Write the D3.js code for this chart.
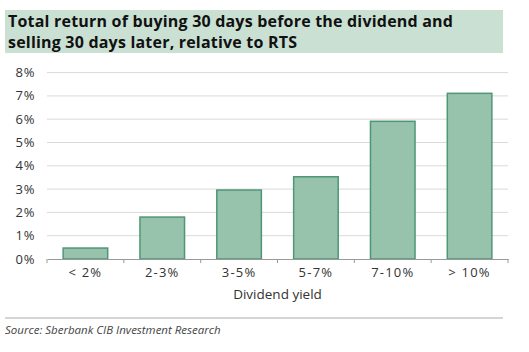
<!DOCTYPE html>
<html>
<head>
<meta charset="utf-8">
<script src="https://cdn.jsdelivr.net/npm/d3@7"></script>
<style>
  body { margin: 0; background: #fff; }
  svg { font-family: "Open Sans", sans-serif; }
</style>
</head>
<body>
<div id="chart"></div>
<script>
// data
const categories = ["< 2%", "2-3%", "3-5%", "5-7%", "7-10%", "> 10%"];
const returns = [0.47, 1.80, 2.96, 3.53, 5.91, 7.11];
const yTicks = [0, 1, 2, 3, 4, 5, 6, 7, 8];

const width = 529,
  height = 352,
  margin = { top: 72.6, bottom: 93, left: 47, right: 21 };

const svg = d3.select("#chart")
  .append("svg")
  .attr("width", width)
  .attr("height", height);

// title band
svg.append("rect")
  .attr("x", 5).attr("y", 10)
  .attr("width", 498).attr("height", 43)
  .attr("fill", "#c9e0d3");

const titleLines = ["Total return of buying 30 days before the dividend and",
  "selling 30 days later, relative to RTS"];
svg.append("g")
  .selectAll("text")
  .data(titleLines)
  .join("text")
  .attr("x", 8)
  .attr("y", (d, i) => 27 + i * 21)
  .attr("font-size", 16)
  .attr("letter-spacing", 0.2)
  .attr("font-weight", "bold")
  .attr("fill", "#111")
  .text(d => d);

const xScale = d3.scaleBand()
  .domain(categories)
  .range([margin.left, width - margin.right])
  .paddingInner(0.42)
  .paddingOuter(0.21);

const yScale = d3.scaleLinear()
  .domain([0, 8])
  .range([height - margin.bottom, margin.top]);

// gridlines
svg.append("g")
  .selectAll("line")
  .data(yTicks.slice(1))
  .join("line")
  .attr("x1", margin.left)
  .attr("x2", width - margin.right)
  .attr("y1", d => yScale(d))
  .attr("y2", d => yScale(d))
  .attr("stroke", "#d9d9d9");

// y labels
svg.append("g")
  .selectAll("text")
  .data(yTicks)
  .join("text")
  .attr("x", 35)
  .attr("y", d => yScale(d) + 4.5)
  .attr("text-anchor", "end")
  .attr("font-size", 13)
  .attr("letter-spacing", 0.6)
  .attr("fill", "#333")
  .text(d => d + "%");

// bars
svg.append("g")
  .selectAll("rect")
  .data(returns)
  .join("rect")
  .attr("x", (d, i) => xScale(categories[i]))
  .attr("width", xScale.bandwidth())
  .attr("y", d => yScale(d))
  .attr("height", d => yScale(0) - yScale(d))
  .attr("fill", "#97c2ab")
  .attr("stroke", "#4f9677")
  .attr("stroke-width", 1.5);

// x axis
const xAxis = d3.axisBottom(xScale).tickSize(0).tickPadding(9);
const gx = svg.append("g")
  .attr("transform", `translate(0,${yScale(0)})`)
  .call(xAxis);
gx.select(".domain").attr("stroke", "#999");
gx.selectAll(".tick text")
  .attr("font-size", 13)
  .attr("letter-spacing", 1.2)
  .attr("fill", "#333")
  .attr("font-family", "Open Sans, sans-serif");

// boundary ticks between categories
const bounds = d3.range(categories.length + 1).map(i => margin.left + i * (width - margin.left - margin.right) / categories.length);
gx.selectAll(".btick")
  .data(bounds)
  .join("line")
  .attr("class", "btick")
  .attr("x1", d => d).attr("x2", d => d)
  .attr("y1", 0).attr("y2", 4)
  .attr("stroke", "#999");

svg.append("text")
  .attr("x", (margin.left + width - margin.right) / 2)
  .attr("y", 299)
  .attr("text-anchor", "middle")
  .attr("font-size", 13.5)
  .attr("fill", "#333")
  .text("Dividend yield");

// footer
svg.append("line")
  .attr("x1", 5).attr("x2", 503)
  .attr("y1", 318).attr("y2", 318)
  .attr("stroke", "#aaa");

svg.append("text")
  .attr("x", 5).attr("y", 334)
  .attr("font-size", 11.5)
  .attr("font-style", "italic")
  .attr("fill", "#444")
  .text("Source: Sberbank CIB Investment Research");
</script>
</body>
</html>
